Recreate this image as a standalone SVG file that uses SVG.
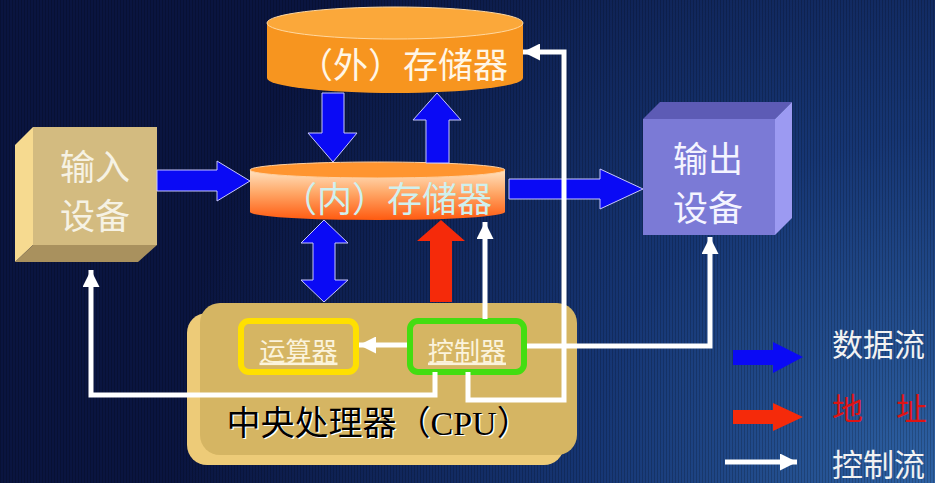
<svg xmlns="http://www.w3.org/2000/svg" width="935" height="483" viewBox="0 0 935 483">
<defs>
  <radialGradient id="bg" cx="935" cy="483" r="760" gradientUnits="userSpaceOnUse">
    <stop offset="0" stop-color="#2E62A4"/>
    <stop offset="0.45" stop-color="#163674"/>
    <stop offset="1" stop-color="#0A1540"/>
  </radialGradient>
  <pattern id="stripes" width="3" height="10" patternUnits="userSpaceOnUse">
    <rect x="0" y="0" width="1" height="10" fill="#000000" fill-opacity="0.18"/>
  </pattern>
  <linearGradient id="innerBody" x1="0" y1="0" x2="0" y2="1">
    <stop offset="0" stop-color="#FFE2C0"/>
    <stop offset="0.45" stop-color="#FFA868"/>
    <stop offset="1" stop-color="#FF5A10"/>
  </linearGradient>
  <marker id="wh" viewBox="0 0 10 10" refX="10" refY="5" markerUnits="userSpaceOnUse" markerWidth="18" markerHeight="17" orient="auto">
    <path d="M0,0 L10,5 L0,10 Z" fill="#FFFFFF"/>
  </marker>
  <style>
    .cjk { font-family: "Noto Sans CJK SC", "Noto Sans", sans-serif; }
    .data { fill: #0A0AF5; stroke: #C8C8FF; stroke-width: 1; }
    .addr { fill: #F52A0A; }
    .ctrl { fill: none; stroke: #FFFFFF; stroke-width: 5; marker-end: url(#wh); }
    .lbl { font-size: 35px; }
    .leg { font-size: 31px; fill: #F2F2F2; }
  </style>
</defs>

<rect x="0" y="0" width="935" height="483" fill="url(#bg)"/>
<rect x="0" y="0" width="935" height="483" fill="url(#stripes)"/>

<g id="outer-storage">
  <path d="M267,23 V78 A128,15 0 0 0 523,78 V23 Z" fill="#F7951F"/>
  <ellipse cx="395" cy="23" rx="128" ry="16" fill="#FBA83A" stroke="#FFD8A0" stroke-width="1"/>
  <text class="cjk lbl" x="403" y="62" text-anchor="middle" dominant-baseline="central" fill="#FFF6E6">（外）存储器</text>
</g>

<g id="inner-storage">
  <path d="M250,170 V212 A127.5,8 0 0 0 505,212 V170 Z" fill="url(#innerBody)"/>
  <ellipse cx="377.5" cy="170" rx="127.5" ry="8" fill="#FF9530" stroke="#FFD0A0" stroke-width="1"/>
  <text class="cjk lbl" x="387" y="196" text-anchor="middle" dominant-baseline="central" fill="#CFF0EE">（内）存储器</text>
</g>

<g id="input-device">
  <polygon points="15,145 33,127 33,245 15,262" fill="#F6DA90"/>
  <polygon points="15,262 33,245 157,245 138,262" fill="#A9915E"/>
  <rect x="33" y="127" width="124" height="118" fill="#D3BB80"/>
  <text class="cjk lbl" x="95" y="164" text-anchor="middle" dominant-baseline="central" fill="#F6F2E4">输入</text>
  <text class="cjk lbl" x="95" y="213" text-anchor="middle" dominant-baseline="central" fill="#F6F2E4">设备</text>
</g>

<g id="output-device">
  <polygon points="643,119 660,102 792,102 775,119" fill="#5D5BB5"/>
  <polygon points="775,119 792,102 792,218 775,235" fill="#9C9AF2"/>
  <rect x="643" y="119" width="132" height="116" fill="#7B7AD6"/>
  <text class="cjk lbl" x="708" y="156" text-anchor="middle" dominant-baseline="central" fill="#F4F4FF">输出</text>
  <text class="cjk lbl" x="708" y="205" text-anchor="middle" dominant-baseline="central" fill="#F4F4FF">设备</text>
</g>

<g id="cpu">
  <rect x="187" y="313" width="377" height="152" rx="20" fill="#EDCB78"/>
  <rect x="200" y="303" width="377" height="152" rx="20" fill="#D5B563"/>
  <text x="228" y="436" font-family="'Liberation Serif', 'Noto Sans CJK SC', serif" font-size="34" fill="#FFFFFF">中央处理器（CPU）</text>
  <text x="226.5" y="434.5" font-family="'Liberation Serif', 'Noto Sans CJK SC', serif" font-size="34" fill="#000000">中央处理器（CPU）</text>
</g>

<g id="alu">
  <rect x="241" y="321" width="115" height="51" rx="8" fill="none" stroke="#FFE000" stroke-width="6"/>
  <text class="cjk" x="298.5" y="349" font-size="26" text-anchor="middle" dominant-baseline="central" fill="#FBF3DC" text-decoration="underline">运算器</text>
</g>

<g id="controller">
  <rect x="410" y="321" width="114" height="51" rx="8" fill="none" stroke="#44DD11" stroke-width="6"/>
  <text class="cjk" x="467" y="349" font-size="26" text-anchor="middle" dominant-baseline="central" fill="#FBF3DC" text-decoration="underline">控制器</text>
</g>

<g id="connectors">
  <polygon class="data" points="157,170 217,170 217,161 250,181 217,201 217,191 157,191"/>
  <polygon class="data" points="509,179 600,179 600,169 643,189 600,209 600,199 509,199"/>
  <polygon class="data" points="322,93 344,93 344,133 357,133 333,162 308,133 322,133"/>
  <polygon class="data" points="426,163 426,120 413,120 437,93 461,120 449,120 449,163"/>
  <polygon class="data" points="324,220 348,243 335,243 335,280 348,280 324,302 301,280 313,280 313,243 301,243"/>
  <polygon class="addr" points="430,302 430,241 417,241 441,220 465,241 452,241 452,302"/>
  <line class="ctrl" x1="407" y1="345" x2="359" y2="345"/>
  <line class="ctrl" x1="485" y1="319" x2="485" y2="222"/>
  <polyline class="ctrl" points="435,372 435,395 91,395 91,270"/>
  <polyline class="ctrl" points="468,372 468,400 564,400 564,52 523,52"/>
  <polyline class="ctrl" points="527,346 710,346 710,237"/>
</g>

<g id="legend">
  <polygon points="733,350 773,350 773,342 803,357 773,373 773,365 733,365" fill="#0A0AF5"/>
  <text class="cjk leg" x="832" y="342" dominant-baseline="central">数据流</text>
  <polygon class="addr" points="733,410 773,410 773,403 803,417 773,431 773,424 733,424"/>
  <text class="cjk leg" x="832" y="406" dominant-baseline="central" style="fill:#DD1414">地</text>
  <text class="cjk leg" x="896" y="406" dominant-baseline="central" style="fill:#DD1414">址</text>
  <line class="ctrl" x1="725" y1="462" x2="797" y2="462"/>
  <text class="cjk leg" x="832" y="462" dominant-baseline="central">控制流</text>
</g>
</svg>
